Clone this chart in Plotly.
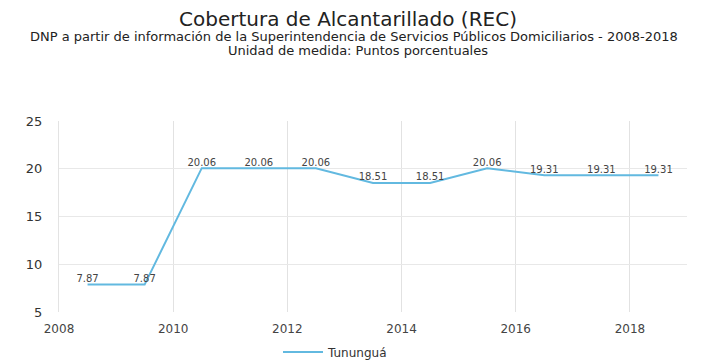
import plotly.graph_objects as go

years = [2008.5, 2009.5, 2010.5, 2011.5, 2012.5, 2013.5, 2014.5, 2015.5, 2016.5, 2017.5, 2018.5]
cobertura = [7.87, 7.87, 20.06, 20.06, 20.06, 18.51, 18.51, 20.06, 19.31, 19.31, 19.31]
serie = "Tununguá"
x_ticks = [2008, 2010, 2012, 2014, 2016, 2018]
y_ticks = [5, 10, 15, 20, 25]

FONT = "DejaVu Sans"
W, H = 711, 362
M_L, M_R, M_T, M_B = 59, 24, 121, 50
plot_w = W - M_L - M_R
plot_h = H - M_T - M_B


def px_x(pix):
    return (pix - M_L) / plot_w


def px_y(pix):
    return (H - M_B - pix) / plot_h


fig = go.Figure()
fig.add_trace(go.Scatter(
    x=years, y=cobertura, mode="lines+text", name=serie,
    line=dict(color="#62b9e0", width=2),
    text=[f"{v:.2f}" for v in cobertura],
    textposition="top center",
    textfont=dict(family=FONT, size=10, color="#444444"),
    cliponaxis=False,
))

fig.update_layout(
    width=W, height=H,
    margin=dict(l=M_L, r=M_R, t=M_T, b=M_B, autoexpand=False),
    paper_bgcolor="white", plot_bgcolor="white",
    showlegend=True,
    legend=dict(orientation="h", x=px_x(278), xanchor="left", y=px_y(352), yanchor="middle",
                font=dict(family=FONT, size=12, color="#333333"), itemwidth=40),
    annotations=[
        dict(text="Cobertura de Alcantarillado (REC)", x=px_x(348), y=px_y(19),
             xref="paper", yref="paper", showarrow=False, yanchor="middle",
             font=dict(family=FONT, size=20, color="#222222")),
        dict(text="DNP a partir de información de la Superintendencia de Servicios Públicos Domiciliarios - 2008-2018",
             x=px_x(354), y=px_y(36), xref="paper", yref="paper", showarrow=False, yanchor="middle",
             font=dict(family=FONT, size=13, color="#222222")),
        dict(text="Unidad de medida: Puntos porcentuales", x=px_x(358), y=px_y(50),
             xref="paper", yref="paper", showarrow=False, yanchor="middle",
             font=dict(family=FONT, size=13, color="#222222")),
    ],
)

fig.update_xaxes(range=[2008, 2019], tickvals=x_ticks, showgrid=True, gridcolor="#e2e2e2",
                 gridwidth=1, zeroline=False, showline=False, ticks="", ticklabelstandoff=8,
                 tickfont=dict(family=FONT, size=12, color="#444444"))
fig.update_yaxes(range=[5, 25], tickvals=y_ticks, showgrid=True, gridcolor="#e8e8e8",
                 zeroline=False, showline=True, linecolor="#e3e3e3", ticks="", ticklabelstandoff=13,
                 tickfont=dict(family=FONT, size=13, color="#333333"))

fig.write_html("out.html")
